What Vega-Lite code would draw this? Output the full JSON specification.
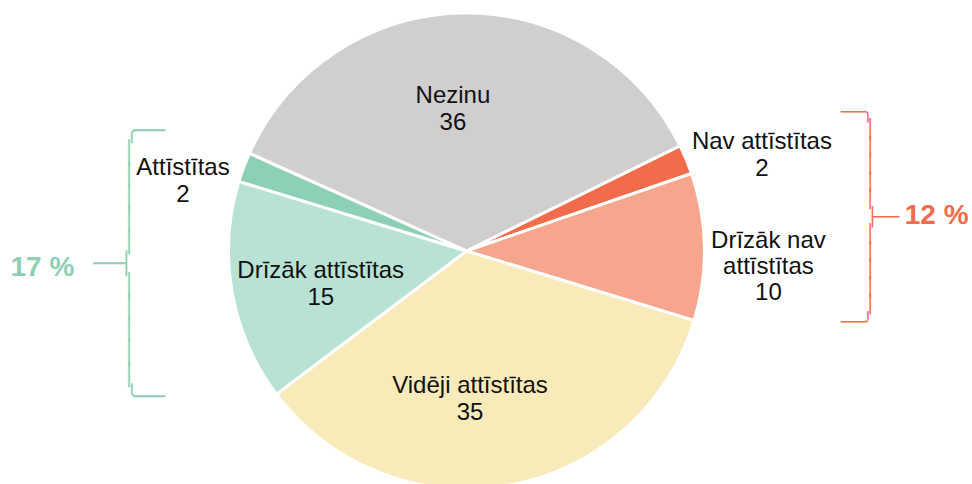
{
  "$schema": "https://vega.github.io/schema/vega-lite/v6.json",
  "width": 933,
  "height": 502,
  "padding": {"left": 0, "top": 0, "right": 39, "bottom": 0},
  "autosize": {"type": "none"},
  "background": "white",
  "config": {"view": {"stroke": null}, "font": "Liberation Sans"},
  "data": {
    "values": [
      {"kategorija": "Nezinu", "etikete": "Nezinu", "skaits": 36, "nr": 1, "grupa": "nezinu"},
      {"kategorija": "Nav attīstītas", "etikete": "Nav attīstītas", "skaits": 2, "nr": 2, "grupa": "negatīvi"},
      {"kategorija": "Drīzāk nav attīstītas", "etikete": "Drīzāk nav\nattīstītas", "skaits": 10, "nr": 3, "grupa": "negatīvi"},
      {"kategorija": "Vidēji attīstītas", "etikete": "Vidēji attīstītas", "skaits": 35, "nr": 4, "grupa": "vidēji"},
      {"kategorija": "Drīzāk attīstītas", "etikete": "Drīzāk attīstītas", "skaits": 15, "nr": 5, "grupa": "pozitīvi"},
      {"kategorija": "Attīstītas", "etikete": "Attīstītas", "skaits": 2, "nr": 6, "grupa": "pozitīvi"}
    ]
  },
  "layer": [
    {
      "mark": {"type": "arc", "radius": 238, "stroke": "white", "strokeWidth": 3},
      "encoding": {
        "theta": {"field": "skaits", "type": "quantitative", "stack": true, "scale": {"domain": [0, 100], "range": [-1.1484, 5.1348]}},
        "order": {"field": "nr", "type": "quantitative"},
        "color": {
          "field": "kategorija", "type": "nominal", "legend": null,
          "scale": {
            "domain": ["Nezinu", "Nav attīstītas", "Drīzāk nav attīstītas", "Vidēji attīstītas", "Drīzāk attīstītas", "Attīstītas"],
            "range": ["#d1cece", "#f26b4a", "#f5a68d", "#f9eab9", "#b8e2d3", "#8ed0b5"]
          }
        }
      }
    },
    {
      "transform": [{"calculate": "datum.etikete + '\\n' + datum.skaits", "as": "teksts"}],
      "mark": {"type": "text", "radius": 147, "dx": -11, "dy": -8, "fontSize": 24, "lineBreak": "\n", "lineHeight": 27, "color": "#111111", "align": "center", "baseline": "middle"},
      "encoding": {
        "theta": {"field": "skaits", "type": "quantitative", "stack": true},
        "order": {"field": "nr", "type": "quantitative"},
        "text": {"condition": {"test": "datum.nr === 1", "field": "teksts", "type": "nominal"}, "value": ""}
      }
    },
    {
      "transform": [{"calculate": "datum.etikete + '\\n' + datum.skaits", "as": "teksts"}],
      "mark": {"type": "text", "radius": 320, "dy": 14, "fontSize": 24, "lineBreak": "\n", "lineHeight": 27, "color": "#111111", "align": "center", "baseline": "middle"},
      "encoding": {
        "theta": {"field": "skaits", "type": "quantitative", "stack": true},
        "order": {"field": "nr", "type": "quantitative"},
        "text": {"condition": {"test": "datum.nr === 2", "field": "teksts", "type": "nominal"}, "value": ""}
      }
    },
    {
      "transform": [{"calculate": "datum.etikete + '\\n' + datum.skaits", "as": "teksts"}],
      "mark": {"type": "text", "radius": 305, "dx": -3, "dy": -5, "fontSize": 24, "lineBreak": "\n", "lineHeight": 26, "color": "#111111", "align": "center", "baseline": "middle"},
      "encoding": {
        "theta": {"field": "skaits", "type": "quantitative", "stack": true},
        "order": {"field": "nr", "type": "quantitative"},
        "text": {"condition": {"test": "datum.nr === 3", "field": "teksts", "type": "nominal"}, "value": ""}
      }
    },
    {
      "transform": [{"calculate": "datum.etikete + '\\n' + datum.skaits", "as": "teksts"}],
      "mark": {"type": "text", "radius": 147, "dx": -22, "dy": -10, "fontSize": 24, "lineBreak": "\n", "lineHeight": 27, "color": "#111111", "align": "center", "baseline": "middle"},
      "encoding": {
        "theta": {"field": "skaits", "type": "quantitative", "stack": true},
        "order": {"field": "nr", "type": "quantitative"},
        "text": {"condition": {"test": "datum.nr === 4", "field": "teksts", "type": "nominal"}, "value": ""}
      }
    },
    {
      "transform": [{"calculate": "datum.etikete + '\\n' + datum.skaits", "as": "teksts"}],
      "mark": {"type": "text", "radius": 147, "dx": -1, "dy": -6, "fontSize": 24, "lineBreak": "\n", "lineHeight": 27, "color": "#111111", "align": "center", "baseline": "middle"},
      "encoding": {
        "theta": {"field": "skaits", "type": "quantitative", "stack": true},
        "order": {"field": "nr", "type": "quantitative"},
        "text": {"condition": {"test": "datum.nr === 5", "field": "teksts", "type": "nominal"}, "value": ""}
      }
    },
    {
      "transform": [{"calculate": "datum.etikete + '\\n' + datum.skaits", "as": "teksts"}],
      "mark": {"type": "text", "radius": 305, "dx": 2, "dy": 24, "fontSize": 24, "lineBreak": "\n", "lineHeight": 27, "color": "#111111", "align": "center", "baseline": "middle"},
      "encoding": {
        "theta": {"field": "skaits", "type": "quantitative", "stack": true},
        "order": {"field": "nr", "type": "quantitative"},
        "text": {"condition": {"test": "datum.nr === 6", "field": "teksts", "type": "nominal"}, "value": ""}
      }
    },
    {
      "transform": [{"aggregate": [{"op": "sum", "field": "skaits", "as": "skaits"}, {"op": "min", "field": "nr", "as": "nr"}], "groupby": ["grupa"]}],
      "mark": {"type": "text", "radius": 339.7, "dy": -158, "font": "DejaVu Sans Mono", "fontSize": 22, "lineBreak": "\n", "lineHeight": 22.17, "color": "#8ed0b5", "align": "center", "baseline": "middle"},
      "encoding": {
        "theta": {"field": "skaits", "type": "quantitative", "stack": true},
        "order": {"field": "nr", "type": "quantitative"},
        "text": {"condition": {"test": "datum.grupa === 'pozitīvi'", "value": "\u2800\u2800╭──\n\u2800\u2800│\u2800\u2800\n\u2800\u2800│\u2800\u2800\n\u2800\u2800│\u2800\u2800\n\u2800\u2800│\u2800\u2800\n\u2800\u2800│\u2800\u2800\n──┤\u2800\u2800\n\u2800\u2800│\u2800\u2800\n\u2800\u2800│\u2800\u2800\n\u2800\u2800│\u2800\u2800\n\u2800\u2800│\u2800\u2800\n\u2800\u2800│\u2800\u2800\n\u2800\u2800╰──"}, "value": ""}
      }
    },
    {
      "transform": [{"aggregate": [{"op": "sum", "field": "skaits", "as": "skaits"}, {"op": "min", "field": "nr", "as": "nr"}], "groupby": ["grupa"]}],
      "mark": {"type": "text", "radius": 405, "dy": -106, "font": "DejaVu Sans Mono", "fontSize": 18, "lineBreak": "\n", "lineHeight": 17.5, "color": "#f26b4a", "align": "center", "baseline": "middle"},
      "encoding": {
        "theta": {"field": "skaits", "type": "quantitative", "stack": true},
        "order": {"field": "nr", "type": "quantitative"},
        "text": {"condition": {"test": "datum.grupa === 'negatīvi'", "value": "──╮\u2800\u2800\n\u2800\u2800│\u2800\u2800\n\u2800\u2800│\u2800\u2800\n\u2800\u2800│\u2800\u2800\n\u2800\u2800│\u2800\u2800\n\u2800\u2800│\u2800\u2800\n\u2800\u2800├──\n\u2800\u2800│\u2800\u2800\n\u2800\u2800│\u2800\u2800\n\u2800\u2800│\u2800\u2800\n\u2800\u2800│\u2800\u2800\n\u2800\u2800│\u2800\u2800\n──╯\u2800\u2800"}, "value": ""}
      }
    },
    {
      "transform": [
        {"aggregate": [{"op": "sum", "field": "skaits", "as": "skaits"}, {"op": "min", "field": "nr", "as": "nr"}], "groupby": ["grupa"]},
        {"calculate": "datum.skaits + ' %'", "as": "procenti"}
      ],
      "mark": {"type": "text", "radius": 426.8, "dy": -31, "fontSize": 28, "fontWeight": "bold", "color": "#8ed0b5", "align": "center", "baseline": "middle"},
      "encoding": {
        "theta": {"field": "skaits", "type": "quantitative", "stack": true},
        "order": {"field": "nr", "type": "quantitative"},
        "text": {"condition": {"test": "datum.grupa === 'pozitīvi'", "field": "procenti", "type": "nominal"}, "value": ""}
      }
    },
    {
      "transform": [
        {"aggregate": [{"op": "sum", "field": "skaits", "as": "skaits"}, {"op": "min", "field": "nr", "as": "nr"}], "groupby": ["grupa"]},
        {"calculate": "datum.skaits + ' %'", "as": "procenti"}
      ],
      "mark": {"type": "text", "radius": 471.7, "dy": 3, "fontSize": 28, "fontWeight": "bold", "color": "#f26b4a", "align": "center", "baseline": "middle"},
      "encoding": {
        "theta": {"field": "skaits", "type": "quantitative", "stack": true},
        "order": {"field": "nr", "type": "quantitative"},
        "text": {"condition": {"test": "datum.grupa === 'negatīvi'", "field": "procenti", "type": "nominal"}, "value": ""}
      }
    }
  ]
}
